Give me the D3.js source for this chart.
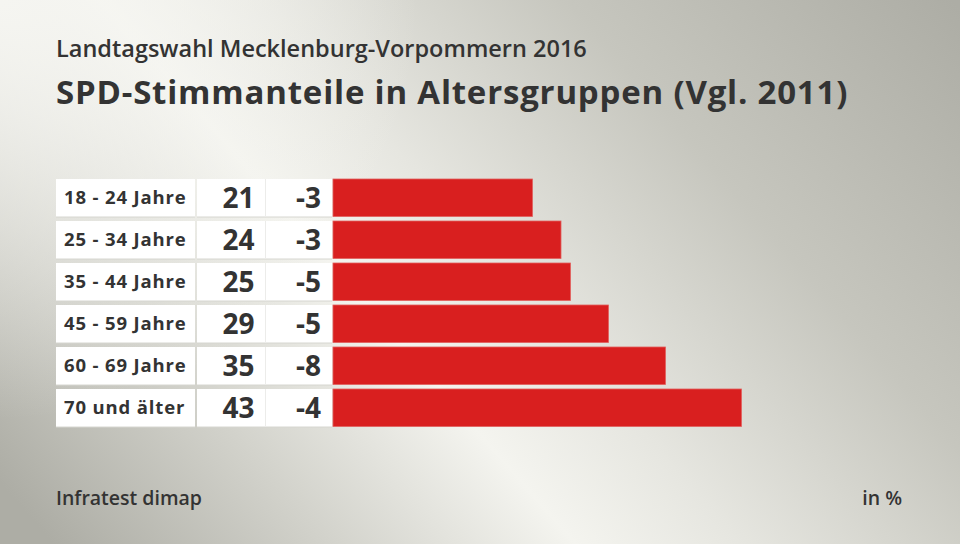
<!DOCTYPE html>
<html><head><meta charset="utf-8">
<script src="https://cdn.jsdelivr.net/npm/d3@7"></script>
<style>body{margin:0;}svg{display:block;}</style>
</head><body>
<script>
const categories = ["18 - 24 Jahre","25 - 34 Jahre","35 - 44 Jahre","45 - 59 Jahre","60 - 69 Jahre","70 und älter"];
const shares = [21,24,25,29,35,43];
const changes = ["-3","-3","-5","-5","-8","-4"];
const title = "SPD-Stimmanteile in Altersgruppen (Vgl. 2011)";
const subtitle = "Landtagswahl Mecklenburg-Vorpommern 2016";
const source = "Infratest dimap";
const unit = "in %";

const W=960,H=544;
const font = "'Open Sans','Noto Sans',sans-serif";
const svg = d3.select("body").append("svg").attr("width",W).attr("height",H);
const defs = svg.append("defs");
const g1 = defs.append("linearGradient").attr("id","bg").attr("gradientUnits","userSpaceOnUse")
  .attr("x1",900).attr("y1",-60).attr("x2",120).attr("y2",620);
[[0,"#adada5"],[0.28,"#c6c6be"],[0.5,"#e6e6e0"],[0.62,"#f4f4ef"],[0.8,"#d2d2cb"],[1,"#adada5"]]
  .forEach(([o,c])=>g1.append("stop").attr("offset",o).attr("stop-color",c));
svg.append("rect").attr("width",W).attr("height",H).attr("fill","url(#bg)");
const g2 = defs.append("radialGradient").attr("id","tl").attr("gradientUnits","userSpaceOnUse")
  .attr("cx",0).attr("cy",0).attr("r",420);
g2.append("stop").attr("offset",0).attr("stop-color","#f6f6f2").attr("stop-opacity",0.95);
g2.append("stop").attr("offset",1).attr("stop-color","#f6f6f2").attr("stop-opacity",0);
svg.append("rect").attr("width",W).attr("height",H).attr("fill","url(#tl)");

svg.append("text").attr("x",56).attr("y",57).text(subtitle)
  .attr("font-family",font).attr("font-weight",600).attr("font-size",23.5).attr("fill","#333");
svg.append("text").attr("x",56).attr("y",103.5).text(title)
  .attr("font-family",font).attr("font-weight",700).attr("font-size",33).attr("fill","#333").attr("letter-spacing",0.8);

const y = d3.scaleBand().domain(categories).range([179,426.5]).paddingInner(0.107).paddingOuter(0);
const x = d3.scaleLinear().domain([0,43]).range([333,741.5]);

const rows = svg.append("g").selectAll("g").data(categories).join("g")
  .attr("transform",d=>`translate(0,${y(d)})`);
const bh = y.bandwidth();
rows.append("rect").attr("x",56).attr("y",1).attr("width",139).attr("height",bh).attr("fill","#d6d6d0");
rows.append("rect").attr("x",197).attr("y",1).attr("width",135).attr("height",bh).attr("fill","#d6d6d0");
rows.append("rect").attr("x",56).attr("width",139).attr("height",bh).attr("fill","#fff");
rows.append("rect").attr("x",197).attr("width",135).attr("height",bh).attr("fill","#fff");
rows.append("line").attr("x1",265.5).attr("x2",265.5).attr("y1",0).attr("y2",bh).attr("stroke","#ececea").attr("stroke-width",1);
rows.append("text").attr("x",64).attr("y",bh/2+6.5).text(d=>d)
  .attr("font-family",font).attr("font-weight",700).attr("font-size",18.5).attr("fill","#333").attr("letter-spacing",0.85);
rows.append("text").attr("x",238.5).attr("y",bh/2+10).attr("text-anchor","middle").text((d,i)=>shares[i])
  .attr("font-family",font).attr("font-weight",700).attr("font-size",28).attr("fill","#333");
rows.append("text").attr("x",321).attr("y",bh/2+10).attr("text-anchor","end").text((d,i)=>changes[i])
  .attr("font-family",font).attr("font-weight",700).attr("font-size",28).attr("fill","#333");
rows.append("rect").attr("x",x(0)).attr("width",(d,i)=>x(shares[i])-x(0)).attr("height",bh)
  .attr("fill","#d91f1f").attr("stroke","#e2605e").attr("stroke-width",0.8);

svg.append("text").attr("x",56).attr("y",505).text(source)
  .attr("font-family",font).attr("font-weight",600).attr("font-size",19.5).attr("fill","#333");
svg.append("text").attr("x",902).attr("y",505).attr("text-anchor","end").text(unit)
  .attr("font-family",font).attr("font-weight",600).attr("font-size",19.5).attr("fill","#333");
</script>
</body></html>
